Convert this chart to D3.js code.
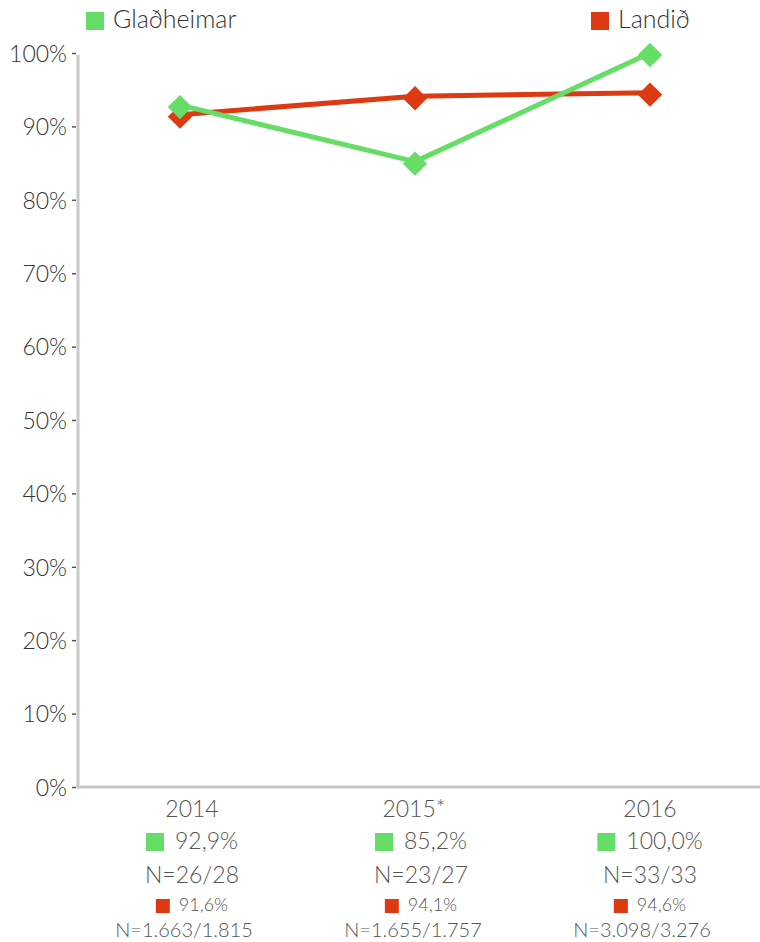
<!DOCTYPE html>
<html><head><meta charset="utf-8">
<script src="https://cdn.jsdelivr.net/npm/d3@7"></script>
<style>body{margin:0;background:#fff}svg{display:block}</style>
</head><body>
<svg id="c" width="760" height="942"></svg>
<script>
const categories = ["2014", "2015*", "2016"];
const seriesNames = ["Glaðheimar", "Landið"];
const gladheimar = [92.9, 85.2, 100.0];
const landid = [91.6, 94.1, 94.6];
const gladLabels = ["92,9%", "85,2%", "100,0%"];
const gladN = ["N=26/28", "N=23/27", "N=33/33"];
const landLabels = ["91,6%", "94,1%", "94,6%"];
const landN = ["N=1.663/1.815", "N=1.655/1.757", "N=3.098/3.276"];
const yTicks = [0, 10, 20, 30, 40, 50, 60, 70, 80, 90, 100];
const colors = ["#66dd66", "#dd3a14"];

const font = "Lato, 'Open Sans', sans-serif";
const svg = d3.select("#c");
const x = d3.scalePoint().domain(categories).range([180, 650]);
const xl = d3.scalePoint().domain(categories).range([192, 650]);
const y = d3.scaleLinear().domain([0, 100]).range([787, 53]);
const axisX = 78;

// y axis
const ya = svg.append("g").attr("transform", `translate(${axisX},0)`)
  .call(d3.axisLeft(y).tickValues(yTicks).tickFormat(d => d + "%").tickSize(5).tickPadding(6));
ya.select(".domain").remove();
ya.selectAll(".tick line").attr("stroke", "#555").attr("stroke-width", 1.5).attr("x1", -6).attr("x2", -2);
ya.selectAll(".tick text").attr("font-family", font).attr("font-weight", 300)
  .attr("font-size", 23).attr("fill", "#333").attr("dy", "0.36em");

svg.append("line").attr("x1", axisX).attr("x2", axisX).attr("y1", y(100) + 2).attr("y2", y(0))
  .attr("stroke", "#c8c8c8").attr("stroke-width", 3);
svg.append("line").attr("x1", axisX - 1.5).attr("x2", 760).attr("y1", y(0)).attr("y2", y(0))
  .attr("stroke", "#c8c8c8").attr("stroke-width", 3);

// lines
const line = d3.line().x((d, i) => x(categories[i])).y(d => y(d));
const diamond = d3.symbol().type(d3.symbolDiamond2).size(380);
[landid, gladheimar].forEach((vals, k) => {
  const col = k === 0 ? colors[1] : colors[0];
  svg.append("path").attr("d", line(vals)).attr("fill", "none")
    .attr("stroke", col).attr("stroke-width", 5).attr("stroke-linejoin", "round");
  svg.selectAll(null).data(vals).enter().append("path")
    .attr("d", diamond)
    .attr("transform", (d, i) => `translate(${x(categories[i])},${y(d) + 2})`)
    .attr("fill", col);
});

// legend
const leg = [{name: seriesNames[0], col: colors[0], x: 86}, {name: seriesNames[1], col: colors[1], x: 591}];
leg.forEach(l => {
  svg.append("rect").attr("x", l.x).attr("y", 12).attr("width", 18).attr("height", 18).attr("fill", l.col);
  svg.append("text").attr("x", l.x + 27).attr("y", 28).attr("font-family", font).attr("font-weight", 300)
    .attr("font-size", 25).attr("fill", "#333").text(l.name);
});

// bottom labels
function swatchRow(g, cx, yBase, txt, size, sq, gap, sqTop, col) {
  const t = g.append("text").attr("y", yBase).attr("font-size", size).attr("text-anchor", "start").text(txt);
  const w = t.node().getComputedTextLength();
  const total = sq + gap + w;
  const left = cx - total / 2;
  g.append("rect").attr("x", left).attr("y", sqTop).attr("width", sq).attr("height", sq).attr("fill", col);
  t.attr("x", left + sq + gap);
}
categories.forEach((c, i) => {
  const cx = xl(c);
  const g = svg.append("g").attr("font-family", font).attr("font-weight", 300).attr("fill", "#555").attr("text-anchor", "middle");
  g.append("text").attr("x", cx - (c.endsWith("*") ? 7 : 0)).attr("y", 817).attr("font-size", 23).text(c);
  swatchRow(g, cx, 849, gladLabels[i], 23, 18, 11, 833, colors[0]);
  g.append("text").attr("x", cx).attr("y", 883).attr("font-size", 23).text(gladN[i]);
  swatchRow(g, cx, 911, landLabels[i], 18, 14, 9, 899, colors[1]);
  g.append("text").attr("x", cx - 8).attr("y", 937).attr("font-size", 20).text(landN[i]);
});
</script>
</body></html>
